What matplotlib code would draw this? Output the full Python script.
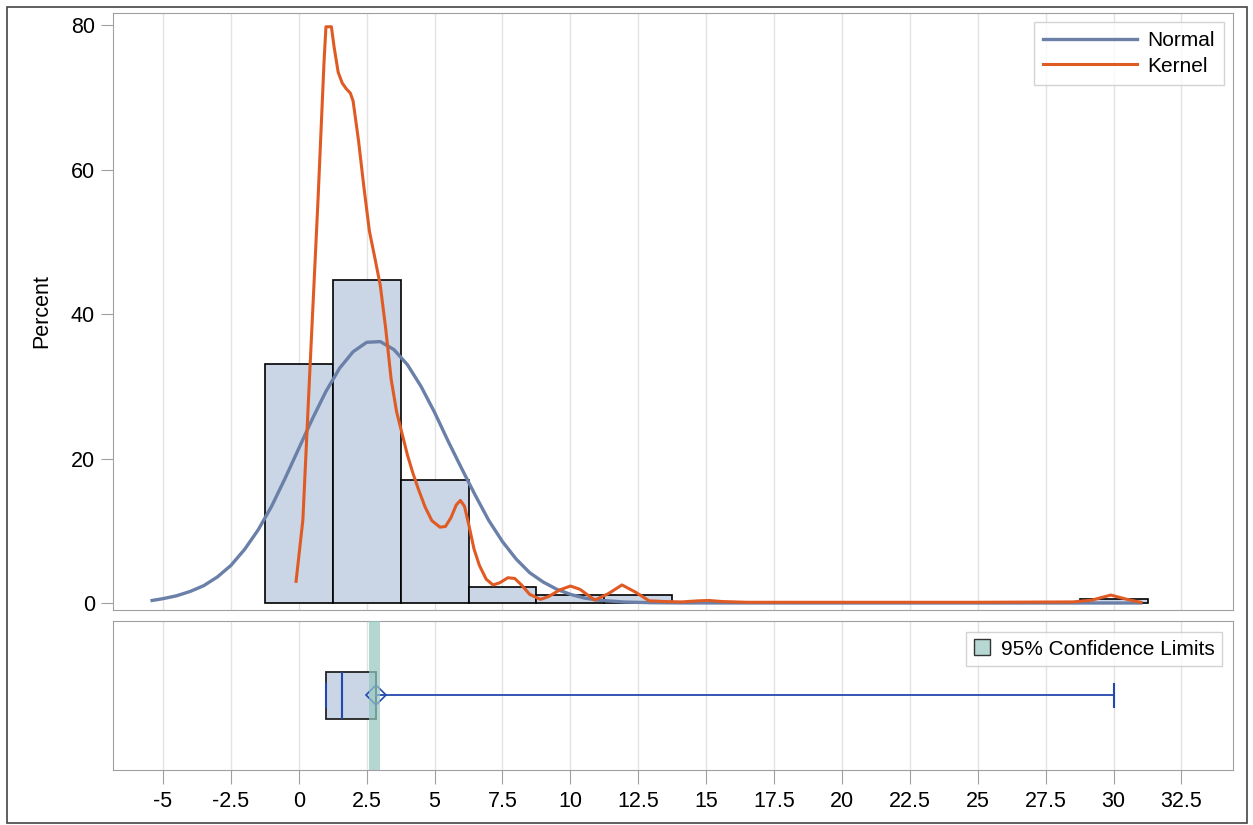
import numpy as np
import matplotlib
matplotlib.use("Agg")
import matplotlib.pyplot as plt
from matplotlib.patches import Patch, Rectangle

plt.rcParams['font.family'] = ['Liberation Sans', 'DejaVu Sans']

# ------- Data -------
# histogram bins (midpoints, width 2.5) and percent per bin
bin_mid = [0, 2.5, 5, 7.5, 10, 12.5, 30]
bin_pct = [33.1, 44.7, 17.1, 2.2, 1.1, 1.1, 0.55]
bin_width = 2.5

# fitted normal curve
normal_x = [-5.4, -5.0, -4.5, -4.0, -3.5, -3.0, -2.5, -2.0, -1.5, -1.0, -0.5, 0, 0.5, 1, 1.5,
            2, 2.5, 3, 3.5, 4, 4.5, 5, 5.5, 6, 6.5, 7, 7.5, 8, 8.5, 9, 9.5, 10, 10.5, 11,
            12, 13, 14, 20, 25, 31]
normal_y = [0.35, 0.6, 1.0, 1.6, 2.4, 3.6, 5.2, 7.4, 10.1, 13.4, 17.3, 21.4, 25.5, 29.3, 32.5,
            34.8, 36.1, 36.2, 35.1, 33.0, 30.0, 26.4, 22.4, 18.6, 14.9, 11.4, 8.5, 6.1, 4.2, 2.9,
            1.9, 1.2, 0.7, 0.4, 0.13, 0.04, 0.01, 0, 0, 0]

# kernel density curve
kernel_x = [-0.1, 0.15, 0.38, 0.71, 0.93, 1.0, 1.2, 1.3, 1.45, 1.6, 1.75, 1.9, 2.0, 2.2, 2.4,
            2.6, 2.8, 3.0, 3.2, 3.4, 3.6, 3.8, 4.0, 4.2, 4.4, 4.65, 4.9, 5.2, 5.4, 5.6, 5.8,
            5.95, 6.1, 6.25, 6.45, 6.65, 6.9, 7.15, 7.4, 7.7, 7.95, 8.2, 8.5, 8.9, 9.2, 9.6,
            10.0, 10.35, 10.9, 11.4, 11.9, 12.4, 12.9, 13.5, 14.1, 14.7, 15.1, 15.6, 16.5,
            20, 25, 28.5, 29.2, 29.9, 30.5, 31.0]
kernel_y = [3.0, 11.5, 30, 56, 75, 79.8, 79.8, 77, 73.5, 72, 71.2, 70.6, 69.5, 64, 57.5,
            51.5, 47.8, 44, 38, 31, 26.5, 23.5, 20.5, 18, 15.8, 13.3, 11.4, 10.5, 10.6, 11.8, 13.6,
            14.2, 13.4, 11, 7.5, 5.2, 3.3, 2.5, 2.8, 3.5, 3.4, 2.5, 1.2, 0.5, 0.9, 1.8,
            2.35, 1.9, 0.4, 1.3, 2.5, 1.5, 0.3, 0.2, 0.15, 0.3, 0.35, 0.2, 0.1,
            0.1, 0.1, 0.15, 0.4, 1.1, 0.5, 0.1]

# box plot summary
box_q1, box_med, box_q3 = 1.0, 1.58, 2.83
box_lo, box_hi, box_mean = 1.0, 30.0, 2.83
ci_lo, ci_hi = 2.57, 2.98

xticks = np.arange(-5, 33, 2.5)

# ------- Styles -------
bar_fill = '#CAD5E5'
normal_col = '#6A80A8'
kernel_col = '#E05A24'
ci_col = '#B5D8D3'
box_blue = '#2448B0'
grid_col = '#E2E2E2'
spine_col = '#A0A0A0'
fs = 15.5

fig = plt.figure(figsize=(12.53, 8.25), dpi=100)
ax = fig.add_axes([0.0902, 0.2606, 0.8939, 0.7236])
axb = fig.add_axes([0.0902, 0.0667, 0.8939, 0.1806])

xlim = (-6.84, 34.4)

# ---- top panel: histogram + curves ----
ax.bar(bin_mid, bin_pct, width=bin_width, color=bar_fill, edgecolor='black', linewidth=1.2, zorder=2)
ax.plot(normal_x, normal_y, color=normal_col, lw=2.4, zorder=3, label='Normal')
ax.plot(kernel_x, kernel_y, color=kernel_col, lw=2.2, zorder=4, label='Kernel')
ax.set_xlim(xlim)
ax.set_ylim(-0.97, 81.7)
ax.set_xticks(xticks)
ax.tick_params(axis='x', length=0, labelbottom=False)
ax.set_yticks([0, 20, 40, 60, 80])
ax.tick_params(axis='y', length=9, color=spine_col, labelsize=fs, pad=4)
ax.grid(axis='x', color=grid_col, lw=1, zorder=0)
ax.set_axisbelow(True)
ax.set_ylabel('Percent', fontsize=fs)
ax.yaxis.set_label_coords(-0.054, 0.5)
for s in ax.spines.values():
    s.set_color(spine_col)
leg = ax.legend(loc='upper right', fontsize=15, handlelength=4.5, frameon=True, fancybox=False,
                borderpad=0.45, labelspacing=0.3, handletextpad=0.5, borderaxespad=0,
                bbox_to_anchor=(0.992, 0.985))
leg.get_frame().set_edgecolor('#C8C8C8')
leg.get_frame().set_linewidth(1)

# ---- bottom panel: box plot ----
stats = [dict(q1=box_q1, med=box_med, q3=box_q3, whislo=box_lo, whishi=box_hi, mean=box_mean)]
axb.bxp(stats, positions=[0.5], widths=0.31, orientation='horizontal', showmeans=True,
        showfliers=False, patch_artist=True, capwidths=0.16,
        boxprops=dict(facecolor=bar_fill, edgecolor='#222222', linewidth=1.3),
        medianprops=dict(color=box_blue, linewidth=1.5),
        whiskerprops=dict(color=box_blue, linewidth=1.3),
        capprops=dict(color=box_blue, linewidth=1.5),
        meanprops=dict(marker='D', markerfacecolor='none', markeredgecolor=box_blue,
                       markersize=10, markeredgewidth=1.2),
        zorder=3)
axb.axvspan(ci_lo, ci_hi, color='#95C7C0', alpha=0.7, lw=0, zorder=4)
axb.set_xlim(xlim)
axb.set_ylim(0, 1)
axb.set_yticks([])
axb.set_xticks(xticks)
axb.set_xticklabels([f'{t:g}' for t in xticks])
axb.tick_params(axis='x', length=10, color=spine_col, labelsize=fs, pad=5)
axb.grid(axis='x', color=grid_col, lw=1, zorder=0)
axb.set_axisbelow(True)
for s in axb.spines.values():
    s.set_color(spine_col)
legb = axb.legend(handles=[Patch(facecolor=ci_col, edgecolor='#333333', label='95% Confidence Limits')],
                  loc='upper right', fontsize=15, handlelength=0.8, handleheight=0.8, frameon=True,
                  fancybox=False, borderpad=0.35, handletextpad=0.5, borderaxespad=0,
                  bbox_to_anchor=(0.990, 0.926))
legb.get_frame().set_edgecolor('#C8C8C8')

# outer frame
fig.patches.append(Rectangle((7 / 1253, 0.002), 1240 / 1253, 1 - 7 / 825 - 0.002, transform=fig.transFigure,
                             fill=False, edgecolor='#444444', lw=1.2))

fig.savefig('out.png', dpi=100)
